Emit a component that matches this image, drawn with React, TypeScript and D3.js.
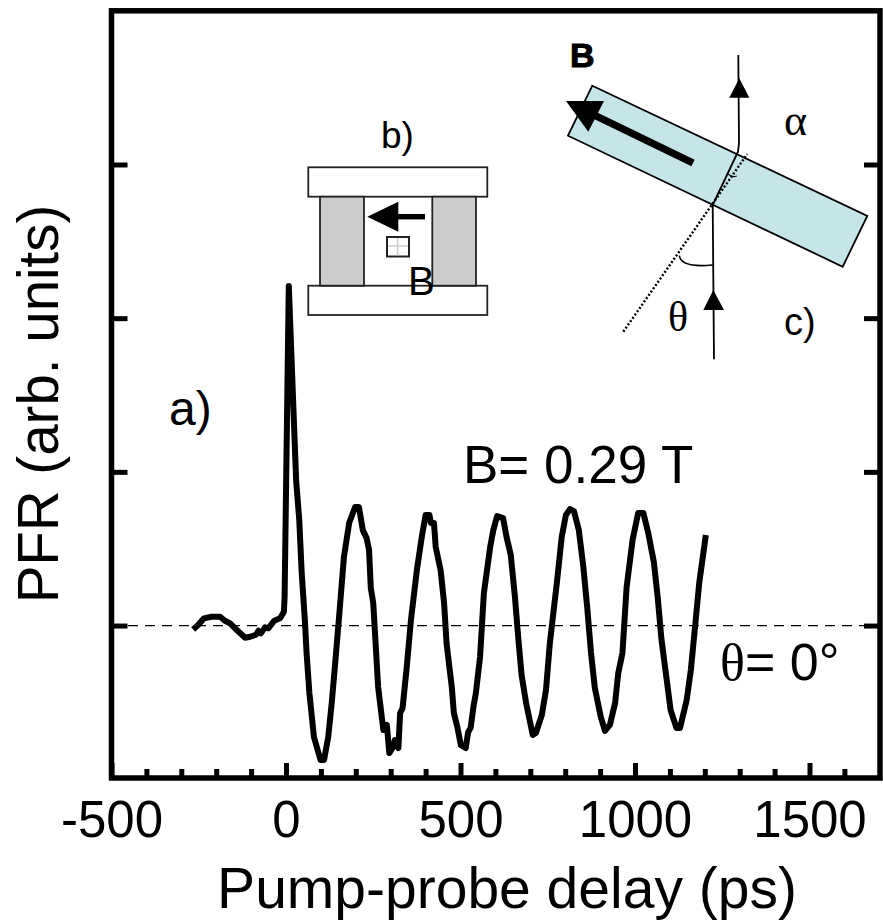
import React, { useRef, useEffect } from 'react';
import * as d3 from 'd3';

// ps and arb. units
const delays = [-266, -252, -235, -213, -189, -175, -160, -141, -117, -103, -86, -79, -72, -60, -51, -34, -17, -6, -4, 8,
  29, 38, 45, 54, 59, 67, 80, 99, 109, 121, 131, 140, 153, 166, 181, 198, 209, 220, 231, 238, 243, 250, 255, 264, 279, 289, 296, 307, 312, 322, 327, 334, 346, 358, 375, 389, 400, 411, 415, 424, 429, 443, 453, 460, 475, 481, 491, 501, 515, 522, 529, 537, 544, 556,
  567, 585, 594, 605, 622, 632, 644, 656, 666, 675, 688, 707, 716, 733, 745, 756, 777, 790, 802, 814, 825, 839, 852, 863, 874, 885, 902, 914, 928, 943, 952, 964, 976, 993, 1009, 1024, 1038, 1054, 1065, 1076, 1091, 1102, 1119, 1129, 1148, 1160, 1172, 1184, 1203];
const signal = [-0.025, 0.003, 0.047, 0.057, 0.057, 0.031, 0.014, -0.029, -0.079, -0.073, -0.06, -0.034, -0.051, -0.012, -0.018, 0.031, 0.047, 0.09, 0.187, 2.21,
  0.947, 0.686, 0.342, 0.036, -0.179, -0.439, -0.725, -0.875, -0.875, -0.725, -0.504, -0.27, 0.081, 0.446, 0.667, 0.771, 0.771, 0.621, 0.569, 0.491, 0.244, 0.146, -0.049, -0.4, -0.68, -0.647, -0.83, -0.79, -0.745, -0.797, -0.569, -0.537, -0.27, 0.036, 0.361, 0.576, 0.719, 0.719, 0.667, 0.667, 0.511, 0.361, 0.146, -0.114, -0.4, -0.569, -0.66, -0.778, -0.797, -0.693, -0.667, -0.53, -0.439, -0.205,
  0.211, 0.511, 0.621, 0.712, 0.699, 0.576, 0.459, 0.185, -0.094, -0.322, -0.504, -0.712, -0.699, -0.582, -0.42, -0.114, 0.296, 0.576, 0.719, 0.758, 0.745, 0.621, 0.381, 0.12, -0.179, -0.407, -0.595, -0.686, -0.647, -0.504, -0.309, -0.179, 0.25, 0.556, 0.732, 0.732, 0.602, 0.413, 0.185, -0.094, -0.355, -0.55, -0.667, -0.667, -0.485, -0.29, -0.01, 0.277, 0.589];

const xMajor = [-500, 0, 500, 1000, 1500];
const xMinor = [-400, -300, -200, -100, 100, 200, 300, 400, 600, 700, 800, 900, 1100, 1200, 1300, 1400, 1600];
const yMajor = [0, 1, 2, 3];

const sans = '"Liberation Sans", Arial, sans-serif';
const serif = '"Liberation Serif", serif';

function App() {
  const width = 883;
  const height = 924;
  const margin = { top: 10.8, bottom: 146, left: 111.5, right: 3 };

  const x = d3.scaleLinear().domain([-500, 1702]).range([margin.left, width - margin.right]);
  const y = d3.scaleLinear().domain([-0.992, 4]).range([height - margin.bottom, margin.top]);

  const svgRef = useRef<SVGSVGElement>(null);

  useEffect(() => {
    const svg = d3.select(svgRef.current);
    svg.select('.axes').selectAll('*').remove();
    const g = svg.select('.axes');
    const bottom = height - margin.bottom;
    const right = width - margin.right;

    const xAxis = g.append('g').attr('transform', `translate(0, ${bottom})`)
      .call(d3.axisBottom(x).tickValues(xMajor).tickSize(-15).tickSizeOuter(0).tickFormat((d) => String(d)));
    xAxis.selectAll('text')
      .attr('y', 59).attr('dy', 0)
      .attr('font-size', 51).attr('font-family', sans).attr('fill', '#000');
    xAxis.selectAll('line').attr('stroke-width', 5);
    xAxis.select('.domain').remove();

    const xMinorAxis = g.append('g').attr('transform', `translate(0, ${bottom})`)
      .call(d3.axisBottom(x).tickValues(xMinor).tickSize(-9).tickSizeOuter(0).tickFormat(() => ''));
    xMinorAxis.selectAll('line').attr('stroke-width', 5);
    xMinorAxis.select('.domain').remove();

    const yLeft = g.append('g').attr('transform', `translate(${margin.left}, 0)`)
      .call(d3.axisLeft(y).tickValues(yMajor).tickSize(-16).tickSizeOuter(0).tickFormat(() => ''));
    yLeft.selectAll('line').attr('stroke-width', 5);
    yLeft.select('.domain').remove();

    const yRight = g.append('g').attr('transform', `translate(${right}, 0)`)
      .call(d3.axisRight(y).tickValues(yMajor).tickSize(-16).tickSizeOuter(0).tickFormat(() => ''));
    yRight.selectAll('line').attr('stroke-width', 5);
    yRight.select('.domain').remove();

    g.append('rect')
      .attr('x', margin.left).attr('y', margin.top)
      .attr('width', right - margin.left).attr('height', bottom - margin.top)
      .attr('fill', 'none').attr('stroke', '#000').attr('stroke-width', 5.5);

    const line = d3.line<number>()
      .x((d) => x(d))
      .y((d, i) => y(signal[i]))
      .curve(d3.curveLinear);

    g.append('line')
      .attr('x1', 128).attr('x2', right)
      .attr('y1', y(0)).attr('y2', y(0))
      .attr('stroke', '#000').attr('stroke-width', 1.2).attr('stroke-dasharray', '10 7');

    g.append('path')
      .attr('d', line(delays))
      .attr('fill', 'none')
      .attr('stroke', '#000')
      .attr('stroke-width', 6)
      .attr('stroke-linejoin', 'round');
  }, []);

  return (
    <svg ref={svgRef} width={width} height={height} viewBox={`0 0 ${width} ${height}`}
      style={{ position: 'absolute', left: 0, top: 0, background: '#fff' }}>
      {/* inset c */}
      <g stroke="#000" fill="none">
        <polygon points="592.3,85.7 867.3,216 842.7,266.7 568,135.7" fill="#c5e5e9" strokeWidth={1.8} />
        <line x1={693} y1={163} x2={590} y2={113} strokeWidth={7.5} />
        <polygon points="566,101 604,101 588.3,131.7" fill="#000" stroke="none" />
        <polyline points="714,359.3 712.7,205 738,151.7 739,143 738.3,55" strokeWidth={1.8} />
        <polygon points="739.3,78.3 729.3,97.7 749.3,97.7" fill="#000" stroke="none" />
        <polygon points="713.3,290 703.3,310 724,310" fill="#000" stroke="none" />
        <line x1={623.3} y1={331.7} x2={747.3} y2={154} strokeWidth={2.4} strokeDasharray="2 2" />
        <path d="M679.3,255.7 Q681,268 712.7,265" strokeWidth={1.6} />
        <path d="M728,174 Q733,178 736.7,176" strokeWidth={1.2} />
      </g>
      <text x={570} y={66.7} fontFamily={sans} fontWeight="bold" fontSize={34} stroke="#000" strokeWidth={1}>B</text>
      <text x={784} y={135} fontFamily={serif} fontSize={44}>α</text>
      <text x={668} y={331} fontFamily={serif} fontSize={42}>θ</text>
      <text x={784} y={335} fontFamily={sans} fontSize={38}>c)</text>

      {/* inset b */}
      <g stroke="#222" strokeWidth={1.8}>
        <rect x={308.3} y={167.3} width={179} height={29.4} fill="#fff" />
        <rect x={308.3} y={285.7} width={179} height={29.3} fill="#fff" />
        <rect x={320} y={196.7} width={44} height={89} fill="#ccc" />
        <rect x={432.3} y={196.7} width={43.7} height={89} fill="#ccc" />
        <rect x={387} y={237} width={22} height={19.5} fill="#fff" strokeWidth={2} />
        <line x1={397.6} y1={238} x2={397.6} y2={255.5} stroke="#ccc" strokeWidth={1.5} />
        <line x1={388} y1={246} x2={408} y2={246} stroke="#ccc" strokeWidth={1.5} />
      </g>
      <line x1={395} y1={216.7} x2={425} y2={216.7} stroke="#000" strokeWidth={5.5} />
      <polygon points="367.3,216.7 398.3,201.7 398.3,231.7" fill="#000" />
      <text x={381} y={148} fontFamily={sans} fontSize={37}>b)</text>
      <text x={408} y={295} fontFamily={sans} fontSize={40}>B</text>

      <g className="axes" />

      <text x={169} y={425} fontFamily={sans} fontSize={48}>a)</text>
      <text x={463} y={483} fontFamily={sans} fontSize={53}>B= 0.29 T</text>
      <text x={720} y={680} fontFamily={sans} fontSize={52}>
        <tspan fontFamily={serif}>θ</tspan>= 0°
      </text>
      <text x={507} y={908} textAnchor="middle" fontFamily={sans} fontSize={57}>Pump-probe delay (ps)</text>
      <text transform="translate(58, 404) rotate(-90)" textAnchor="middle" fontFamily={sans} fontSize={56.5}>PFR (arb. units)</text>
    </svg>
  );
}

export default App;
